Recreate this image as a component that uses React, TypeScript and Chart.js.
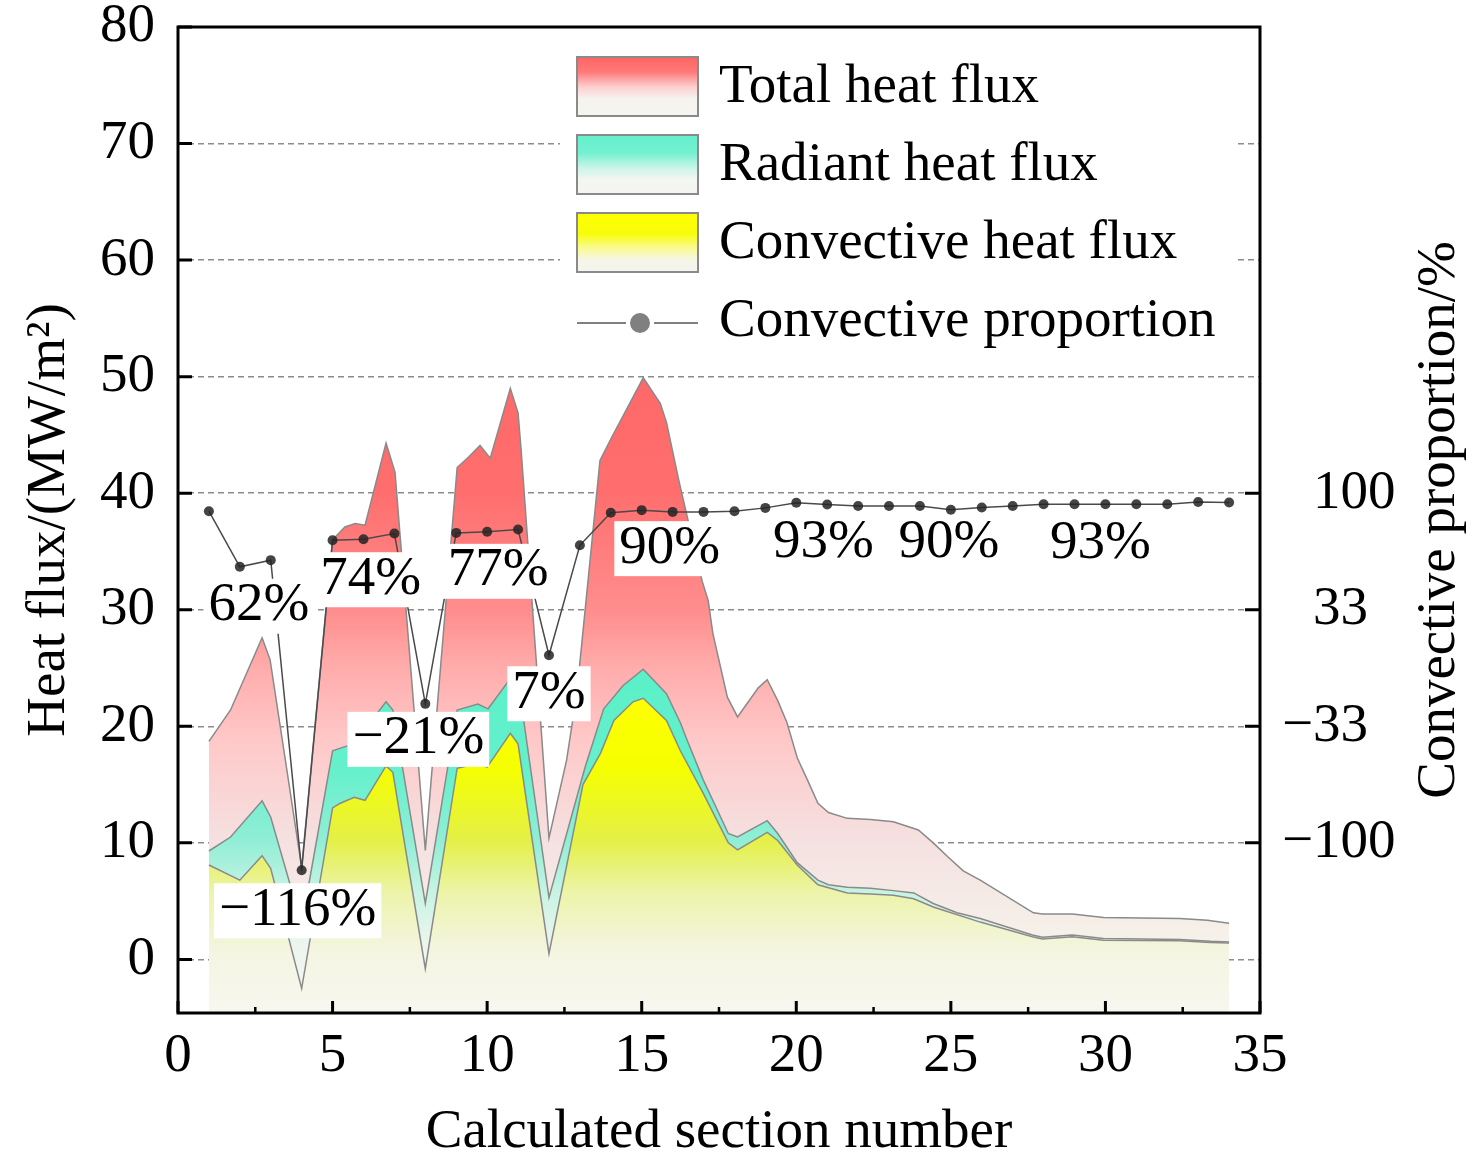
import { useEffect, useRef } from "react";
import { Chart, registerables } from "chart.js";

Chart.register(...registerables);

const FONT = '"Liberation Serif", "Times New Roman", serif';
const FONT_SIZE = 55;

// Total heat flux outline (section number, MW/m2)
const totalX = [1, 1.7, 2.72, 2.98, 4, 5, 5.4, 5.73, 6.05, 6.73, 7.02, 8, 9.03, 9.4, 9.77, 10.1, 10.75, 11, 11.1, 12, 12.57, 12.9, 13.65, 14.03, 15.05, 15.6, 15.8, 16.2, 16.95, 17.15, 17.3, 17.77, 18.1, 18.77, 19.06, 19.4, 19.7, 20.03, 20.36, 20.7, 21.04, 21.65, 22.4, 23.14, 23.95, 24.43, 24.9, 25.4, 25.95, 27.67, 27.96, 28.93, 29.94, 32.4, 33.3, 34];
const totalY = [18.7, 21.4, 27.6, 25.7, 7.9, 36.0, 37.1, 37.4, 37.25, 44.3, 41.8, 9.35, 42.2, 43.1, 44.1, 43.0, 49.0, 46.9, 43.7, 10.4, 17.1, 22.8, 42.8, 44.8, 49.9, 47.7, 46.1, 41.1, 32.5, 30.8, 28.0, 22.5, 20.8, 23.3, 24.0, 22.2, 20.3, 17.3, 15.4, 13.4, 12.6, 12.1, 12.0, 11.8, 11.1, 10.0, 8.8, 7.6, 6.8, 4.0, 3.9, 3.9, 3.6, 3.5, 3.35, 3.1];

// Radiant heat flux outline
const radiantX = [1, 1.7, 2.72, 3, 4, 5, 5.45, 5.65, 6.73, 6.95, 8, 9.03, 9.7, 10.03, 10.75, 11.07, 12, 13.17, 13.77, 14.4, 15.05, 15.8, 16.25, 16.47, 16.99, 17.8, 18.1, 19.06, 19.4, 20.03, 20.7, 21.04, 21.65, 22.4, 23.14, 23.8, 24.43, 25.2, 25.95, 27.64, 27.96, 28.93, 29.94, 32.4, 33.4, 34];
const radiantY = [9.3, 10.5, 13.6, 12.2, 3.0, 17.9, 18.3, 18.4, 22.1, 21.4, 4.8, 21.4, 21.9, 21.5, 24.1, 22.6, 5.3, 16.5, 21.5, 23.5, 24.9, 22.8, 20.3, 18.8, 15.4, 10.8, 10.5, 11.9, 10.8, 8.3, 6.8, 6.4, 6.2, 6.1, 5.9, 5.7, 4.8, 4.0, 3.5, 2.1, 1.9, 2.1, 1.8, 1.7, 1.55, 1.5];

// Convective heat flux outline
const convectiveX = [1, 2, 2.72, 3, 4, 5, 5.25, 5.7, 6.05, 6.73, 6.95, 8, 9.03, 9.7, 10, 10.75, 11, 12, 13.1, 13.67, 14.1, 14.72, 15.05, 15.8, 16.25, 17, 17.8, 18.1, 19.06, 19.4, 20.03, 20.7, 21.65, 22.4, 23.14, 23.8, 24.43, 25.95, 27.64, 27.96, 28.93, 29.94, 32.4, 33.4, 34];
const convectiveY = [8.1, 6.8, 8.9, 7.8, -2.5, 13.0, 13.4, 13.9, 13.65, 16.6, 16.05, -0.8, 16.4, 16.8, 16.5, 19.4, 18.5, 0.5, 15.0, 17.7, 20.5, 22.1, 22.4, 20.5, 17.9, 14.2, 10.0, 9.4, 10.9, 10.2, 8.1, 6.4, 5.7, 5.6, 5.5, 5.2, 4.5, 3.2, 1.95, 1.75, 1.95, 1.65, 1.6, 1.45, 1.4];

// Convective proportion per section (%)
const sections = [1, 2, 3, 4, 5, 6, 7, 8, 9, 10, 11, 12, 13, 14, 15, 16, 17, 18, 19, 20, 21, 22, 23, 24, 25, 26, 27, 28, 29, 30, 31, 32, 33, 34];
const proportion = [89.7, 57.9, 61.7, -115.7, 73.1, 73.7, 76.9, -20.5, 77.3, 77.9, 79.2, 7.3, 70.2, 88.8, 90.3, 89.3, 89.3, 89.7, 91.6, 94.5, 93.5, 92.7, 92.7, 92.7, 90.5, 91.8, 92.7, 93.7, 93.7, 93.7, 93.7, 93.7, 95.0, 94.7];

// annotated points
const labelIndex = [1, 3, 4, 7, 9, 11, 14, 19, 24, 28];
const labelText = ["62%", "\u2212116%", "74%", "\u221221%", "77%", "7%", "90%", "93%", "90%", "93%"];
const labelDx = [19, -4, 38, -7, 11, 0, 28, 27, -2, 26];
const labelDy = [39, 40, 39, 35, 39, 38, 38, 40, 33, 39];

const leftTicks = [0, 10, 20, 30, 40, 50, 60, 70, 80];
const rightTicks = [-100, -100 / 3, 100 / 3, 100];
const rightTickLabels = ["\u2212100", "\u221233", "33", "100"];
const xTicks = [0, 5, 10, 15, 20, 25, 30, 35];
const xMinorTicks = [2.5, 7.5, 12.5, 17.5, 22.5, 27.5, 32.5];

const legendLabels = ["Total heat flux", "Radiant heat flux", "Convective heat flux", "Convective proportion"];

const Y_MIN = -4.6;
const Y_MAX = 80;
// right axis: 100 lines up with 40, 33 with 30
const toRight = (v: number) => (v - 25) * (20 / 3);

const totalStops: [number, string][] = [
  [0, "rgb(255,104,104)"],
  [0.18, "rgb(255,110,110)"],
  [0.37, "rgb(255,142,142)"],
  [0.45, "rgb(255,170,170)"],
  [0.57, "rgb(255,200,200)"],
  [0.73, "rgb(245,225,225)"],
  [0.9, "rgb(245,243,234)"],
  [1, "rgb(247,247,240)"],
];
const radiantStops: [number, string][] = [
  [0, "rgb(90,240,200)"],
  [0.3, "rgb(102,240,204)"],
  [0.5, "rgb(145,238,213)"],
  [0.65, "rgb(200,243,228)"],
  [0.8, "rgb(236,245,238)"],
  [1, "rgb(247,247,240)"],
];
const convectiveStops: [number, string][] = [
  [0, "rgb(255,255,0)"],
  [0.22, "rgb(245,255,0)"],
  [0.45, "rgb(228,240,70)"],
  [0.62, "rgb(236,244,170)"],
  [0.8, "rgb(244,245,225)"],
  [1, "rgb(247,247,240)"],
];

function areaGradient(stops: [number, string][], peak: number) {
  return (context: any) => {
    const chart = context.chart;
    const area = chart.chartArea;
    const yScale = chart.scales.y;
    if (!area || !yScale) return stops[0][1];
    const top = yScale.getPixelForValue(peak);
    const g = chart.ctx.createLinearGradient(0, top, 0, area.bottom);
    stops.forEach(([o, c]) => g.addColorStop(o, c));
    return g;
  };
}

function toPoints(xs: number[], ys: number[]) {
  return xs.map((x, i) => ({ x, y: ys[i] }));
}

const decorPlugin = {
  id: "decor",
  afterDatasetsDraw(chart: any) {
    const { ctx, chartArea: a, scales } = chart;
    const xs = scales.x;
    const ys = scales.y;
    const ys2 = scales.y2;
    ctx.save();

    // point labels with white boxes
    ctx.font = `${FONT_SIZE}px ${FONT}`;
    ctx.textAlign = "center";
    ctx.textBaseline = "middle";
    labelIndex.forEach((idx, i) => {
      const px = xs.getPixelForValue(sections[idx]) + labelDx[i];
      const py = ys2.getPixelForValue(proportion[idx]) + labelDy[i];
      const w = ctx.measureText(labelText[i]).width + 10;
      ctx.fillStyle = "#ffffff";
      ctx.fillRect(px - w / 2, py - 27, w, 55);
      ctx.fillStyle = "#000000";
      ctx.fillText(labelText[i], px, py);
    });

    // legend
    ctx.fillStyle = "#ffffff";
    ctx.fillRect(560, 32, 675, 322);
    const swatches = [
      { y: 57, stops: [[0, "rgb(255,100,100)"], [0.25, "rgb(255,120,120)"], [0.5, "rgb(253,205,205)"], [0.7, "rgb(245,243,238)"], [1, "rgb(245,245,240)"]] },
      { y: 135, stops: [[0, "rgb(100,240,205)"], [0.3, "rgb(115,240,208)"], [0.55, "rgb(200,245,232)"], [0.75, "rgb(243,246,242)"], [1, "rgb(245,245,240)"]] },
      { y: 213, stops: [[0, "rgb(255,255,0)"], [0.35, "rgb(248,252,10)"], [0.6, "rgb(250,250,150)"], [0.8, "rgb(245,245,232)"], [1, "rgb(245,245,240)"]] },
    ];
    swatches.forEach((s) => {
      const g = ctx.createLinearGradient(0, s.y, 0, s.y + 59);
      s.stops.forEach(([o, c]: any) => g.addColorStop(o, c));
      ctx.fillStyle = g;
      ctx.fillRect(577, s.y, 121, 59);
      ctx.strokeStyle = "#8a8a8a";
      ctx.lineWidth = 2;
      ctx.strokeRect(577, s.y, 121, 59);
    });
    ctx.strokeStyle = "#808080";
    ctx.lineWidth = 2;
    ctx.beginPath();
    ctx.moveTo(577, 323);
    ctx.lineTo(626, 323);
    ctx.moveTo(654, 323);
    ctx.lineTo(698, 323);
    ctx.stroke();
    ctx.fillStyle = "#808080";
    ctx.beginPath();
    ctx.arc(640, 323, 10, 0, Math.PI * 2);
    ctx.fill();
    ctx.fillStyle = "#000000";
    ctx.textAlign = "left";
    ctx.textBaseline = "middle";
    [88, 166, 244, 322].forEach((ly, i) => ctx.fillText(legendLabels[i], 719, ly));

    // frame
    ctx.strokeStyle = "#000000";
    ctx.lineWidth = 3;
    ctx.strokeRect(a.left, a.top, a.right - a.left, a.bottom - a.top);

    // inward ticks
    ctx.beginPath();
    leftTicks.forEach((v) => {
      const py = ys.getPixelForValue(v);
      ctx.moveTo(a.left, py);
      ctx.lineTo(a.left + 14, py);
    });
    rightTicks.forEach((v) => {
      const py = ys2.getPixelForValue(v);
      ctx.moveTo(a.right, py);
      ctx.lineTo(a.right - 15, py);
    });
    xTicks.forEach((v) => {
      const px = xs.getPixelForValue(v);
      ctx.moveTo(px, a.bottom);
      ctx.lineTo(px, a.bottom - 12);
    });
    ctx.stroke();
    ctx.lineWidth = 2.5;
    ctx.beginPath();
    xMinorTicks.forEach((v) => {
      const px = xs.getPixelForValue(v);
      ctx.moveTo(px, a.bottom);
      ctx.lineTo(px, a.bottom - 6);
    });
    ctx.stroke();

    // right axis labels, digits aligned
    ctx.fillStyle = "#000000";
    ctx.textAlign = "left";
    const minusW = ctx.measureText("\u2212").width;
    rightTicks.forEach((v, i) => {
      const py = ys2.getPixelForValue(v);
      const t = rightTickLabels[i];
      const start = a.right + 53 - (t.startsWith("\u2212") ? minusW : 0);
      ctx.fillText(t, start, py);
    });

    // right axis title, reading upward
    ctx.translate(1440, (a.top + a.bottom) / 2);
    ctx.rotate(-Math.PI / 2);
    ctx.textAlign = "center";
    ctx.fillText("Convective proportion/%", 0, 0);

    ctx.restore();
  },
};

export default function App() {
  const chartRef = useRef<HTMLCanvasElement>(null);
  const chartInstance = useRef<Chart | null>(null);

  useEffect(() => {
    if (!chartRef.current) return;
    const ctx = chartRef.current.getContext("2d");
    if (!ctx) return;

    if (chartInstance.current) {
      chartInstance.current.destroy();
    }

    const font = { family: FONT, size: FONT_SIZE };

    chartInstance.current = new Chart(ctx, {
      type: "line",
      data: {
        datasets: [
          {
            label: "Convective proportion",
            data: toPoints(sections, proportion),
            yAxisID: "y2",
            borderColor: "#4a4a4a",
            borderWidth: 1.5,
            pointRadius: 5,
            pointBorderWidth: 0,
            pointBackgroundColor: "rgba(35,35,35,0.85)",
            fill: false,
            order: 0,
          },
          {
            label: "Convective heat flux",
            data: toPoints(convectiveX, convectiveY),
            yAxisID: "y",
            borderColor: "#8a8a8a",
            borderWidth: 1.5,
            pointRadius: 0,
            backgroundColor: areaGradient(convectiveStops, Math.max(...convectiveY)),
            fill: "start",
            order: 1,
          },
          {
            label: "Radiant heat flux",
            data: toPoints(radiantX, radiantY),
            yAxisID: "y",
            borderColor: "#8a8a8a",
            borderWidth: 1.5,
            pointRadius: 0,
            backgroundColor: areaGradient(radiantStops, Math.max(...radiantY)),
            fill: "start",
            order: 2,
          },
          {
            label: "Total heat flux",
            data: toPoints(totalX, totalY),
            yAxisID: "y",
            borderColor: "#8a8a8a",
            borderWidth: 1.5,
            pointRadius: 0,
            backgroundColor: areaGradient(totalStops, Math.max(...totalY)),
            fill: "start",
            order: 3,
          },
        ],
      },
      options: {
        responsive: true,
        maintainAspectRatio: false,
        animation: false,
        layout: { padding: { top: 27, left: 0, right: 0, bottom: 0 } },
        elements: { line: { tension: 0 } },
        plugins: {
          legend: { display: false },
          tooltip: { enabled: false },
        },
        scales: {
          x: {
            type: "linear",
            position: "bottom",
            min: 0,
            max: 35,
            afterBuildTicks: (s: any) => {
              s.ticks = xTicks.map((v) => ({ value: v }));
            },
            afterFit: (s: any) => {
              s.height = 155;
              s.paddingLeft = 0;
              s.paddingRight = 0;
            },
            grid: { display: false, drawTicks: false },
            border: { display: false },
            ticks: {
              padding: 11,
              color: "#000",
              font,
              maxRotation: 0,
              autoSkip: false,
              callback: (v: any) => String(v),
            },
            title: {
              display: true,
              text: "Calculated section number",
              color: "#000",
              font,
              padding: { top: 0, bottom: 2 },
            },
          },
          y: {
            position: "left",
            min: Y_MIN,
            max: Y_MAX,
            afterBuildTicks: (s: any) => {
              s.ticks = leftTicks.map((v) => ({ value: v }));
            },
            afterFit: (s: any) => {
              s.width = 178;
              s.paddingTop = 0;
              s.paddingBottom = 0;
            },
            grid: { color: "#8c8c8c", lineWidth: 1.5, drawTicks: false },
            border: { display: false, dash: [6, 4] },
            ticks: {
              padding: 23,
              color: "#000",
              font,
              callback: (v: any) => String(v),
            },
            title: {
              display: true,
              text: "Heat flux/(MW/m\u00b2)",
              color: "#000",
              font,
              padding: { top: 17, bottom: 0 },
            },
          },
          y2: {
            position: "right",
            min: toRight(Y_MIN),
            max: toRight(Y_MAX),
            afterBuildTicks: (s: any) => {
              s.ticks = rightTicks.map((v) => ({ value: v }));
            },
            afterFit: (s: any) => {
              s.width = 217;
              s.paddingTop = 0;
              s.paddingBottom = 0;
            },
            grid: { display: false, drawTicks: false },
            border: { display: false },
            ticks: { display: false },
          },
        },
      },
      plugins: [decorPlugin],
    });

    return () => {
      if (chartInstance.current) {
        chartInstance.current.destroy();
        chartInstance.current = null;
      }
    };
  }, []);

  return (
    <div style={{ position: "absolute", left: 0, top: 0, width: 1477, height: 1168, background: "#fff" }}>
      <canvas ref={chartRef} />
    </div>
  );
}
